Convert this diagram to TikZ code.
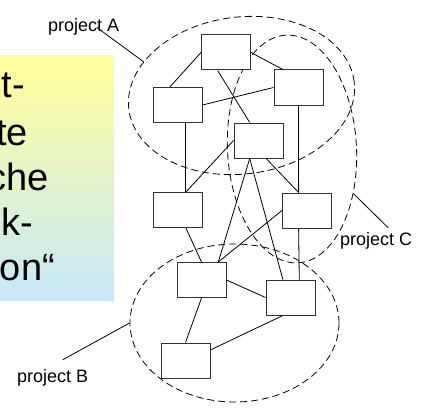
\documentclass[tikz,border=0pt]{standalone}
\usepackage{fontspec}
\setmainfont{Liberation Sans}
\usetikzlibrary{calc,shapes.geometric}

\definecolor{gradtop}{RGB}{255,255,153}
\definecolor{gradmid}{RGB}{226,242,214}
\definecolor{gradbot}{RGB}{200,232,250}

\begin{document}
\begin{tikzpicture}[x=1pt,y=-1pt,
        mod/.style={rectangle,draw=black!80,fill=white,line width=1pt,minimum width=49pt,minimum height=35pt,inner sep=0pt},
        proj/.style={ellipse,draw,dash pattern=on 7pt off 4pt,line width=.8pt,inner sep=0pt},
        lab/.style={font=\fontsize{18}{21}\selectfont,inner sep=0pt,anchor=base west},
        big/.style={font=\fontsize{38}{42}\selectfont,inner sep=0pt,anchor=base east},
        link/.style={line width=.8pt}]
                                \useasboundingbox (0,0) rectangle (422,409);

                                \shade[top color=gradtop,middle color=gradmid,bottom color=gradbot] (0,56) rectangle (114,300);
                                \begin{scope}
                                \clip (0,56) rectangle (114,300);
                                \node[big] (w1) at (25,98) {t-};
                                \node[big] (w2) at (28,145) {te};
                                \node[big] (w3) at (49,190) {che};
                                \node[big] (w4) at (33,235) {k-};
                                \node[big] (w5) at (55,280) {on“};
                                \end{scope}

                                \node[proj,minimum width=227pt,minimum height=157pt,rotate=7] (pa) at (241.5,95.5) {};
                                \node[proj,minimum width=129pt,minimum height=228pt,rotate=3] (pc) at (292,149) {};
                                \node[proj,minimum width=209pt,minimum height=158pt] (pb) at (234.5,323) {};

                                \node[mod] (m1) at (226,52.5) {};
                                \node[mod] (m2) at (177.5,105) {};
                                \node[mod] (m3) at (298.5,87.5) {};
                                \node[mod] (m4) at (258.5,140.5) {};
                                \node[mod] (m5) at (177.5,210) {};
                                \node[mod] (m6) at (307,210.5) {};
                                \node[mod] (m7) at (201.5,280) {};
                                \node[mod] (m8) at (290.5,297.5) {};
                                \node[mod] (m9) at (185.5,360.5) {};

                                \draw[link] (m1.west) -- (m2.113);
                                \draw[link] (m1.east) -- (m3.131);
                                \draw[link] (m1.245) -- (m4.116);
                                \draw[link] (m2.east) -- (m3.west);
                                \draw[link] (m2.295) -- (m5.65);
                                \draw[link] (m4.west) -- (m5.65);
                                \draw[link] (m3.south) -- (m6.115);
                                \draw[link] (m4.293) -- (m6.115);
                                \draw[link] (m4.244) -- (m7.47);
                                \draw[link] (m4.244) -- (m8.113);
                                \draw[link] (m6.west) -- (m7.47);
                                \draw[link] (m5.295) -- (m7.north);
                                \draw[link] (m7.east) -- (m8.west);
                                \draw[link] (m6.245) -- (m8.64);
                                \draw[link] (m7.south) -- (m9.north);
                                \draw[link] (m8.247) -- (m9.23);

                                \node[lab] (labA) at (48,32) {project A};
                                \node[lab] (labB) at (17,382) {project B};
                                \node[lab] (labC) at (340,245) {project C};
                                \draw[link] ($(labA.center)+(13,0)$) -- (pa.154);
                                \draw[link] ($(labB.north)+(10,-9)$) -- (pb.west);
                                \draw[link] ($(labC.north)+(12,-4)$) -- (pc.-39);
                            \end{tikzpicture}
\end{document}
